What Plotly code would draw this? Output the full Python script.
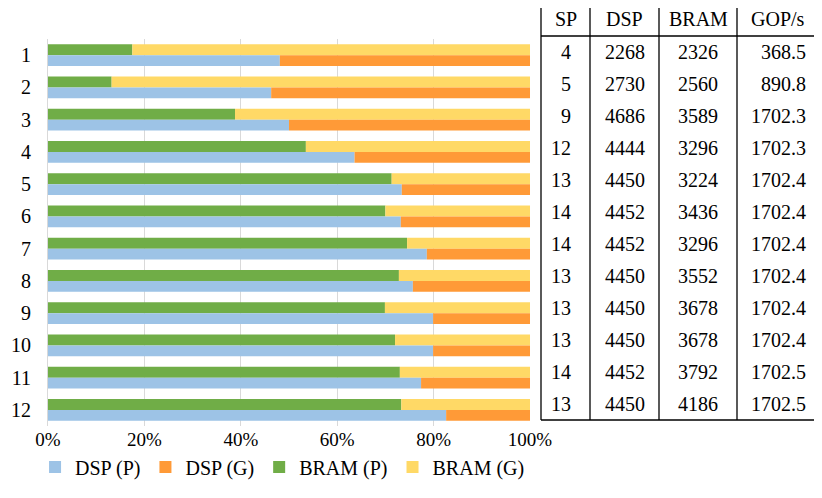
import plotly.graph_objects as go

# configurations 1..12
configs = [str(i) for i in range(1, 13)]

# share of DSP / BRAM used by P and G (percent)
dsp_p = [48.1, 46.3, 50.0, 63.6, 73.4, 73.2, 78.6, 75.7, 79.9, 79.9, 77.4, 82.6]
dsp_g = [51.9, 53.7, 50.0, 36.4, 26.6, 26.8, 21.4, 24.3, 20.1, 20.1, 22.6, 17.4]
bram_p = [17.5, 13.2, 38.8, 53.5, 71.3, 70.0, 74.5, 72.8, 69.9, 72.0, 73.0, 73.3]
bram_g = [82.5, 86.8, 61.2, 46.5, 28.7, 30.0, 25.5, 27.2, 30.1, 28.0, 27.0, 26.7]

# table on the right
table_header = ["SP", "DSP", "BRAM", "GOP/s"]
sp = [4, 5, 9, 12, 13, 14, 14, 13, 13, 13, 14, 13]
dsp = [2268, 2730, 4686, 4444, 4450, 4452, 4452, 4450, 4450, 4450, 4452, 4450]
bram = [2326, 2560, 3589, 3296, 3224, 3436, 3296, 3552, 3678, 3678, 3792, 4186]
gops = [368.5, 890.8, 1702.3, 1702.3, 1702.4, 1702.4, 1702.4, 1702.4,
        1702.4, 1702.4, 1702.5, 1702.5]

FONT = "Liberation Serif, Times New Roman, DejaVu Serif, serif"

# the page body adds an 8px margin, so the figure is drawn 8px right/down
OFF = 8
W, H = 822 - OFF, 498 - OFF
ML, MT = 48 - OFF, 39 - OFF
MR = W - (530 - OFF)
MB = H - (426 - OFF)


def px(x):
    # page pixel -> paper x
    return (x - OFF - ML) / (W - ML - MR)


def py(y):
    # page pixel -> paper y
    return 1 - (y - OFF - MT) / (H - MT - MB)


fig = go.Figure()

# BRAM traces first so they sit on top of each pair (y axis is reversed)
fig.add_trace(go.Bar(y=configs, x=bram_p, orientation='h', name='BRAM (P)',
                     marker_color='#70AD47', offsetgroup='bram', legendrank=3))
fig.add_trace(go.Bar(y=configs, x=bram_g, base=bram_p, orientation='h', name='BRAM (G)',
                     marker_color='#FFD966', offsetgroup='bram', legendrank=4))
fig.add_trace(go.Bar(y=configs, x=dsp_p, orientation='h', name='DSP (P)',
                     marker_color='#9DC3E6', offsetgroup='dsp', legendrank=1))
fig.add_trace(go.Bar(y=configs, x=dsp_g, base=dsp_p, orientation='h', name='DSP (G)',
                     marker_color='#FF9A37', offsetgroup='dsp', legendrank=2))

for tr in fig.data:
    tr.marker.line.width = 0

# table lines
cols_x = [541, 590, 659, 737, 818]
top, head_bottom, bottom = 3, 36, 420
line = dict(color='black', width=1.3)
shapes = []
for x in cols_x:
    shapes.append(dict(type='line', xref='paper', yref='paper',
                       x0=px(x), x1=px(x), y0=py(top), y1=py(bottom), line=line))
for y in (top, head_bottom, bottom):
    shapes.append(dict(type='line', xref='paper', yref='paper',
                       x0=px(cols_x[0]), x1=px(cols_x[-1]), y0=py(y), y1=py(y), line=line))

annotations = []
tfont = dict(family=FONT, size=20, color='black')
for i, h in enumerate(table_header):
    annotations.append(dict(xref='paper', yref='paper', x=px((cols_x[i] + cols_x[i + 1]) / 2),
                            y=py((top + head_bottom) / 2), text=h, showarrow=False,
                            xanchor='center', yanchor='middle', font=tfont))

row_h = (bottom - head_bottom) / len(configs)
for r in range(len(configs)):
    yc = py(head_bottom + row_h * (r + 0.5))
    cells = [
        (str(sp[r]), 573, 'right'),
        (str(dsp[r]), (cols_x[1] + cols_x[2]) / 2, 'center'),
        (str(bram[r]), (cols_x[2] + cols_x[3]) / 2, 'center'),
        (f"{gops[r]:.1f}", 808, 'right'),
    ]
    for text, x, anchor in cells:
        annotations.append(dict(xref='paper', yref='paper', x=px(x), y=yc, text=text,
                                showarrow=False, xanchor=anchor, yanchor='middle', font=tfont))

fig.update_layout(
    width=W,
    height=H,
    margin=dict(l=ML, r=MR, t=MT, b=MB, autoexpand=False),
    barmode='group',
    bargap=0.33,
    bargroupgap=0,
    plot_bgcolor='white',
    paper_bgcolor='white',
    font=dict(family=FONT, size=20, color='black'),
    shapes=shapes,
    annotations=annotations,
    showlegend=True,
    legend=dict(orientation='h', x=1.0001, xanchor='right', y=py(467), yanchor='middle',
                font=dict(family=FONT, size=20, color='black'), traceorder='normal',
                itemwidth=30),
    xaxis=dict(range=[0, 100], tickvals=[0, 20, 40, 60, 80, 100],
               ticktext=['0%', '20%', '40%', '60%', '80%', '100%'],
               showgrid=True, gridcolor='#D9D9D9', gridwidth=1, zeroline=False,
               automargin=False, tickfont=dict(family=FONT, size=19), fixedrange=True),
    yaxis=dict(autorange='reversed', showgrid=False, showline=True, linecolor='#D9D9D9',
               automargin=False, ticklabelstandoff=12, tickfont=dict(family=FONT, size=20)),
)

fig.write_html("out.html")
